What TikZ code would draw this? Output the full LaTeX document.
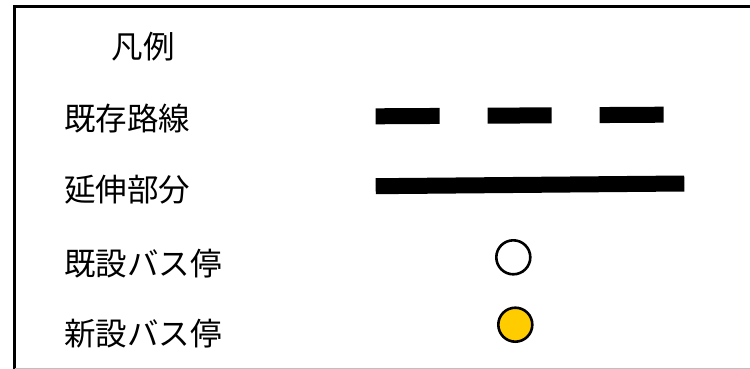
\documentclass[tikz,border=0pt]{standalone}
\usepackage{fontspec}
\newfontfamily\jpfont{Noto Sans CJK JP}
\tikzset{
  legendtext/.style={anchor=west, inner sep=0pt, font=\jpfont\fontsize{31.5}{36}\selectfont},
  busstop/.style={circle, draw, line width=2.6pt, minimum size=34pt, inner sep=0pt},
  route/.style={line width=16pt},
}
\begin{document}
\begin{tikzpicture}[x=1pt, y=-1pt]
    \useasboundingbox (0,0) rectangle (750,369);
    % frame
    \draw[line width=2.2pt] (14.5,369) -- (14.5,6.5) -- (750,6.5);
    \draw[gray!50, line width=1pt] (14.5,368.5) -- (750,368.5);

    \node[legendtext, anchor=center] (title) at (143,47) {凡例};
    \node[legendtext] (existing) at (64,119) {既存路線};
    \node[legendtext] (extension) at (64,190) {延伸部分};
    \node[legendtext] (oldstop) at (64,263.5) {既設バス停};
    \node[legendtext] (newstop) at (64,333.5) {新設バス停};

    \coordinate (e1) at (375.7,116.3);
    \coordinate (e2) at (663.7,114.7);
    \draw[route, dash pattern=on 64pt off 48pt] (e1) -- (e2);
    \coordinate (x1) at (375.7,186.2);
    \coordinate (x2) at (684.3,183.5);
    \draw[route] (x1) -- (x2);

    \node[busstop] (s1) at (513.3,257.3) {};
    \node[busstop, fill={rgb,255:red,255;green,204;blue,0}] (s2) at (515.3,324.7) {};
  \end{tikzpicture}
\end{document}
